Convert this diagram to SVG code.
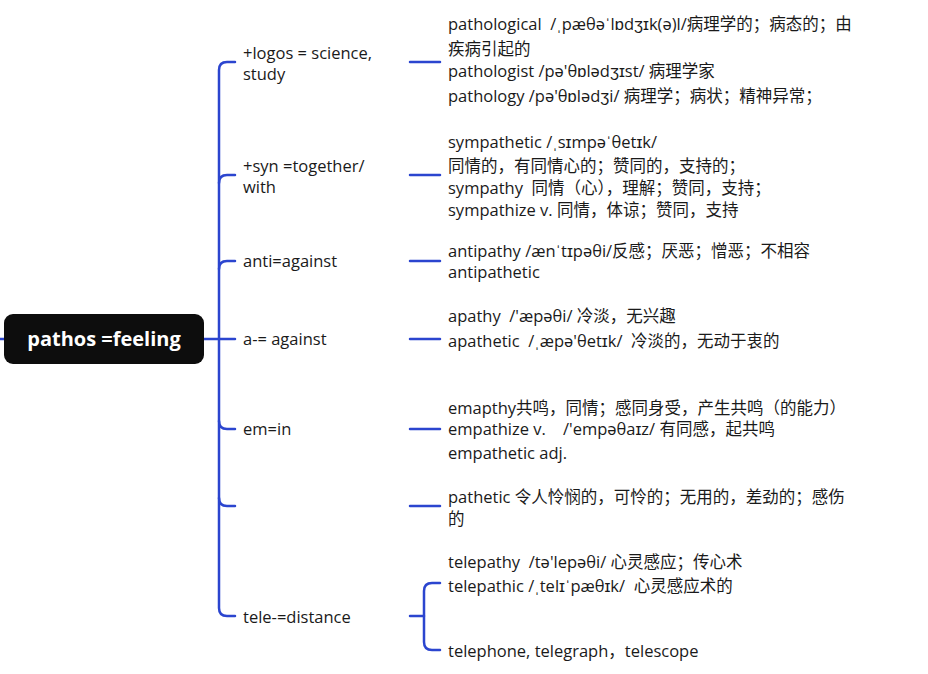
<svg xmlns="http://www.w3.org/2000/svg" width="928" height="674" viewBox="0 0 928 674">
<style>
.c{fill:none;stroke:#2b45cf;stroke-width:2.5;stroke-linecap:round}
.t{font-family:"Open Sans","Noto Sans CJK SC",sans-serif;font-size:16.5px;fill:#1a1a1a;white-space:pre}
.r{font-family:"Open Sans","Noto Sans CJK SC",sans-serif;font-size:20px;font-weight:bold;fill:#ffffff}
</style>
<rect width="928" height="674" fill="#ffffff"/>
<g id="connectors">
<path class="c" d="M0,339 H4"/>
<path class="c" d="M204,339 H235"/>
<path class="c" d="M235,62 H227 Q219,62 219,70 V608 Q219,616 227,616 H235"/>
<path class="c" d="M219,183 Q219,175 227,175 H235"/>
<path class="c" d="M219,269 Q219,261 227,261 H235"/>
<path class="c" d="M219,421 Q219,429 227,429 H235"/>
<path class="c" d="M219,498 Q219,506 227,506 H235"/>
<path class="c" d="M410,62 H440"/>
<path class="c" d="M410,175 H440"/>
<path class="c" d="M410,261 H440"/>
<path class="c" d="M410,339 H440"/>
<path class="c" d="M410,429 H440"/>
<path class="c" d="M410,506 H440"/>
<path class="c" d="M410,616 H424"/>
<path class="c" d="M440,583 H432 Q424,583 424,591 V642 Q424,650 432,650 H440"/>
</g>
<g id="root">
<rect x="4" y="314" width="200" height="50" rx="9" fill="#0d0d0d"/>
<text class="r" x="104" y="346" text-anchor="middle">pathos =feeling</text>
</g>
<g id="logos">
<text class="t" x="243" y="59">+logos = science,</text>
<text class="t" x="243" y="80">study</text>
</g>
<g id="logos-words">
<text class="t" x="448" y="30" xml:space="preserve">pathological  /ˌpæθəˈlɒdʒɪk(ə)l/病理学的；病态的；由</text>
<text class="t" x="448" y="55">疾病引起的</text>
<text class="t" x="448" y="77">pathologist /pə'θɒlədʒɪst/ 病理学家</text>
<text class="t" x="448" y="102">pathology /pə'θɒlədʒi/ 病理学；病状；精神异常；</text>
</g>
<g id="syn">
<text class="t" x="243" y="172">+syn =together/</text>
<text class="t" x="243" y="193">with</text>
</g>
<g id="syn-words">
<text class="t" x="448" y="148">sympathetic /ˌsɪmpəˈθetɪk/</text>
<text class="t" x="448" y="172">同情的，有同情心的；赞同的，支持的；</text>
<text class="t" x="448" y="194" xml:space="preserve">sympathy  同情（心），理解；赞同，支持；</text>
<text class="t" x="448" y="216">sympathize v. 同情，体谅；赞同，支持</text>
</g>
<g id="anti">
<text class="t" x="243" y="267">anti=against</text>
</g>
<g id="anti-words">
<text class="t" x="448" y="257">antipathy /ænˈtɪpəθi/反感；厌恶；憎恶；不相容</text>
<text class="t" x="448" y="278">antipathetic</text>
</g>
<g id="a">
<text class="t" x="243" y="345">a-= against</text>
</g>
<g id="a-words">
<text class="t" x="448" y="322" xml:space="preserve">apathy  /'æpəθi/ 冷淡，无兴趣</text>
<text class="t" x="448" y="347" xml:space="preserve">apathetic  /ˌæpə'θetɪk/  冷淡的，无动于衷的</text>
</g>
<g id="em">
<text class="t" x="243" y="435">em=in</text>
</g>
<g id="em-words">
<text class="t" x="448" y="414">emapthy共鸣，同情；感同身受，产生共鸣（的能力）</text>
<text class="t" x="448" y="435" xml:space="preserve">empathize v.    /'empəθaɪz/ 有同感，起共鸣</text>
<text class="t" x="448" y="459">empathetic adj.</text>
</g>
<g id="empty-branch"></g>
<g id="pathetic">
<text class="t" x="448" y="503">pathetic 令人怜悯的，可怜的；无用的，差劲的；感伤</text>
<text class="t" x="448" y="525">的</text>
</g>
<g id="tele">
<text class="t" x="243" y="623">tele-=distance</text>
</g>
<g id="tele-words">
<text class="t" x="448" y="568" xml:space="preserve">telepathy  /tə'lepəθi/ 心灵感应；传心术</text>
<text class="t" x="448" y="592" xml:space="preserve">telepathic /ˌtelɪˈpæθɪk/  心灵感应术的</text>
</g>
<g id="tele-examples">
<text class="t" x="448" y="657" xml:space="preserve">telephone, telegraph，telescope</text>
</g>
</svg>
